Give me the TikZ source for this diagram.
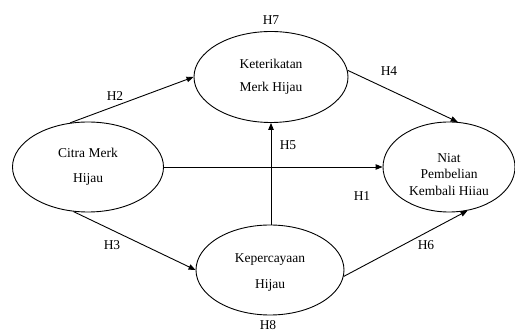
\documentclass[tikz,border=0pt]{standalone}
\usepackage{fontspec}
\setmainfont{Liberation Serif}
\usetikzlibrary{shapes.geometric,arrows.meta}
\begin{document}
\begin{tikzpicture}[x=1pt,y=-1pt,
	every node/.style={font=\fontsize{13.5}{16.5}\selectfont},
	konstruk/.style={draw, line width=0.9pt, ellipse, inner sep=0pt, align=center},
	panah/.style={line width=0.9pt, -{Triangle[length=7pt,width=5.5pt]}},
	hipo/.style={inner sep=1pt}]
	\useasboundingbox (0,0) rectangle (515,331);
	\node [konstruk, minimum width=151pt, minimum height=90pt] (citra) at (88,167) {Citra Merk\\[8pt]Hijau};
	\node [konstruk, minimum width=154pt, minimum height=91pt] (ket) at (271,77) {Keterikatan\\[7pt]Merk Hijau};
	\node [konstruk, minimum width=132pt, minimum height=90pt] (niat) at (449,167) {\rule{0pt}{24pt}Niat\\Pembelian\\Kembali Hiiau};
	\node [konstruk, minimum width=148pt, minimum height=90pt] (kep) at (270,270) {\rule{0pt}{14pt}Kepercayaan\\[9pt]Hijau};

	\draw [panah] (citra.112) -- (ket.west);
	\draw [panah] (citra.252) -- (kep.west);
	\draw [panah] (citra.east) -- (niat.west);
	\draw [panah] (kep.north -| ket.south) -- (ket.south);
	\draw [panah] (ket.5) -- (niat.79);
	\draw [panah] (kep.355) -- (niat.293);

	\node [hipo] (h1) at (362,196) {H1};
	\node [hipo] (h2) at (115,96) {H2};
	\node [hipo] (h3) at (112,245) {H3};
	\node [hipo] (h4) at (389,71) {H4};
	\node [hipo] (h5) at (288,145) {H5};
	\node [hipo] (h6) at (426,245) {H6};
	\node [hipo] (h7) at (271,20) {H7};
	\node [hipo] (h8) at (268,325) {H8};
\end{tikzpicture}
\end{document}
